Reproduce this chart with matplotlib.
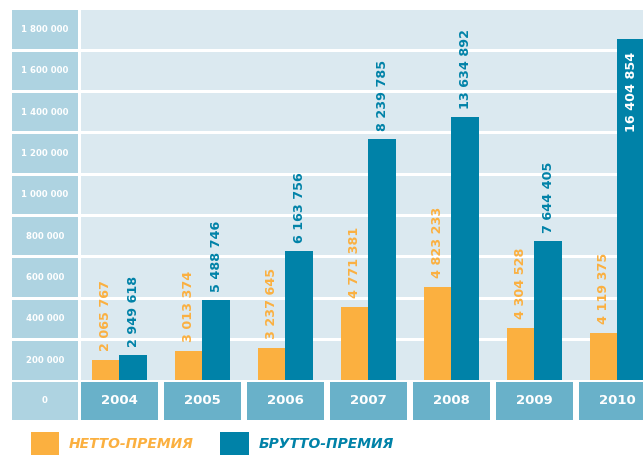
import matplotlib
matplotlib.use('Agg')
import matplotlib.pyplot as plt
from matplotlib.patches import Rectangle

##########################################
## Data                                 ##
##########################################

years = ['2004', '2005', '2006', '2007', '2008', '2009', '2010']

# printed values (text on the bars)
netto_labels = ['2 065 767', '3 013 374', '3 237 645', '4 771 381', '4 823 233', '4 304 528', '4 119 375']
brutto_labels = ['2 949 618', '5 488 746', '6 163 756', '8 239 785', '13 634 892', '7 644 405', '16 404 854']

# bar heights as drawn against the axis scale
netto_heights = [94000, 138000, 151000, 350000, 447000, 249000, 225000]
brutto_heights = [118000, 384000, 621000, 1163000, 1269000, 670000, 1646000]

ytick_labels = ['200 000', '400 000', '600 000', '800 000', '1 000 000',
                '1 200 000', '1 400 000', '1 600 000', '1 800 000']

##########################################
## Styles                               ##
##########################################

orange = '#fbb040'
blue = '#0082a8'
band_color = '#dbe9f0'
label_cell = '#aed3e1'
year_cell = '#69b1c9'

W, H = 643, 455
fig = plt.figure(figsize=(W / 100, H / 100), dpi=100)

px_unit = 200000 / 41.37      # data units per pixel
step = 83.0                   # px between year columns
x0 = 119.5                    # px of first column center

def xpx(p):
    return (p - x0) / step

ax_left, ax_right = 12, 643
ax_top, ax_bottom = 10.1, 419.5
base_px = 379.5
ax = fig.add_axes([ax_left / W, (H - ax_bottom) / H,
                   (ax_right - ax_left) / W, (ax_bottom - ax_top) / H])
ax.set_xlim(xpx(ax_left), xpx(ax_right))
ax.set_ylim(-(ax_bottom - base_px) * px_unit, (base_px - ax_top) * px_unit)
ax.axis('off')

R = 200000
gap = 3 * px_unit

# row bands + left label cells
for k, lab in enumerate(ytick_labels):
    lo, hi = k * R, (k + 1) * R - gap
    ax.add_patch(Rectangle((xpx(81), lo), xpx(700) - xpx(81), hi - lo,
                           color=band_color, lw=0, zorder=0))
    ax.add_patch(Rectangle((xpx(12), lo), xpx(78) - xpx(12), hi - lo,
                           color=label_cell, lw=0, zorder=0))
    ax.text((xpx(12) + xpx(78)) / 2, (lo + hi) / 2, lab, color='white',
            fontsize=6.2, fontweight='bold', ha='center', va='center')

# bottom row: "0" cell and year cells
ylo = -(419.5 - base_px) * px_unit
yhi = -(382 - base_px) * px_unit
ax.add_patch(Rectangle((xpx(12), ylo), xpx(78) - xpx(12), yhi - ylo,
                       color=label_cell, lw=0, zorder=0))
ax.text((xpx(12) + xpx(78)) / 2, (ylo + yhi) / 2, '0', color='white',
        fontsize=6.2, fontweight='bold', ha='center', va='center')
half = 38.5 / step
for i, yr in enumerate(years):
    ax.add_patch(Rectangle((i - half, ylo), 2 * half, yhi - ylo,
                           color=year_cell, lw=0, zorder=0, clip_on=True))
    ax.text(i, (ylo + yhi) / 2, yr, color='white', fontsize=9.5,
            fontweight='bold', ha='center', va='center')

# bars
w = 27.5 / step
xs = range(len(years))
ax.bar([x - w / 2 for x in xs], netto_heights, width=w, color=orange, zorder=2)
ax.bar([x + w / 2 for x in xs], brutto_heights, width=w, color=blue, zorder=2)

for i in xs:
    ax.annotate(netto_labels[i], xy=(i - w / 2, netto_heights[i]),
                xytext=(0, 6.5), textcoords='offset points', rotation=90,
                ha='center', va='bottom', color=orange, fontsize=9.2,
                fontweight='bold', zorder=3)
    if i == len(years) - 1:
        ax.annotate(brutto_labels[i], xy=(i + w / 2, brutto_heights[i]),
                    xytext=(0, -9), textcoords='offset points', rotation=90,
                    ha='center', va='top', color='white', fontsize=9.2,
                    fontweight='bold', zorder=3)
    else:
        ax.annotate(brutto_labels[i], xy=(i + w / 2, brutto_heights[i]),
                    xytext=(0, 6), textcoords='offset points', rotation=90,
                    ha='center', va='bottom', color=blue, fontsize=9.2,
                    fontweight='bold', zorder=3)

# legend
fig.add_artist(Rectangle((31 / W, 0), 28 / W, 23 / H, color=orange,
                         lw=0, transform=fig.transFigure))
fig.add_artist(Rectangle((220 / W, 0), 29 / W, 23 / H, color=blue,
                         lw=0, transform=fig.transFigure))
fig.text(69 / W, (H - 444.5) / H, 'НЕТТО-ПРЕМИЯ', color=orange, fontsize=10,
         fontweight='bold', style='italic', ha='left', va='center')
fig.text(259 / W, (H - 444.5) / H, 'БРУТТО-ПРЕМИЯ', color=blue, fontsize=10,
         fontweight='bold', style='italic', ha='left', va='center')

fig.savefig('out.png', dpi=100)
